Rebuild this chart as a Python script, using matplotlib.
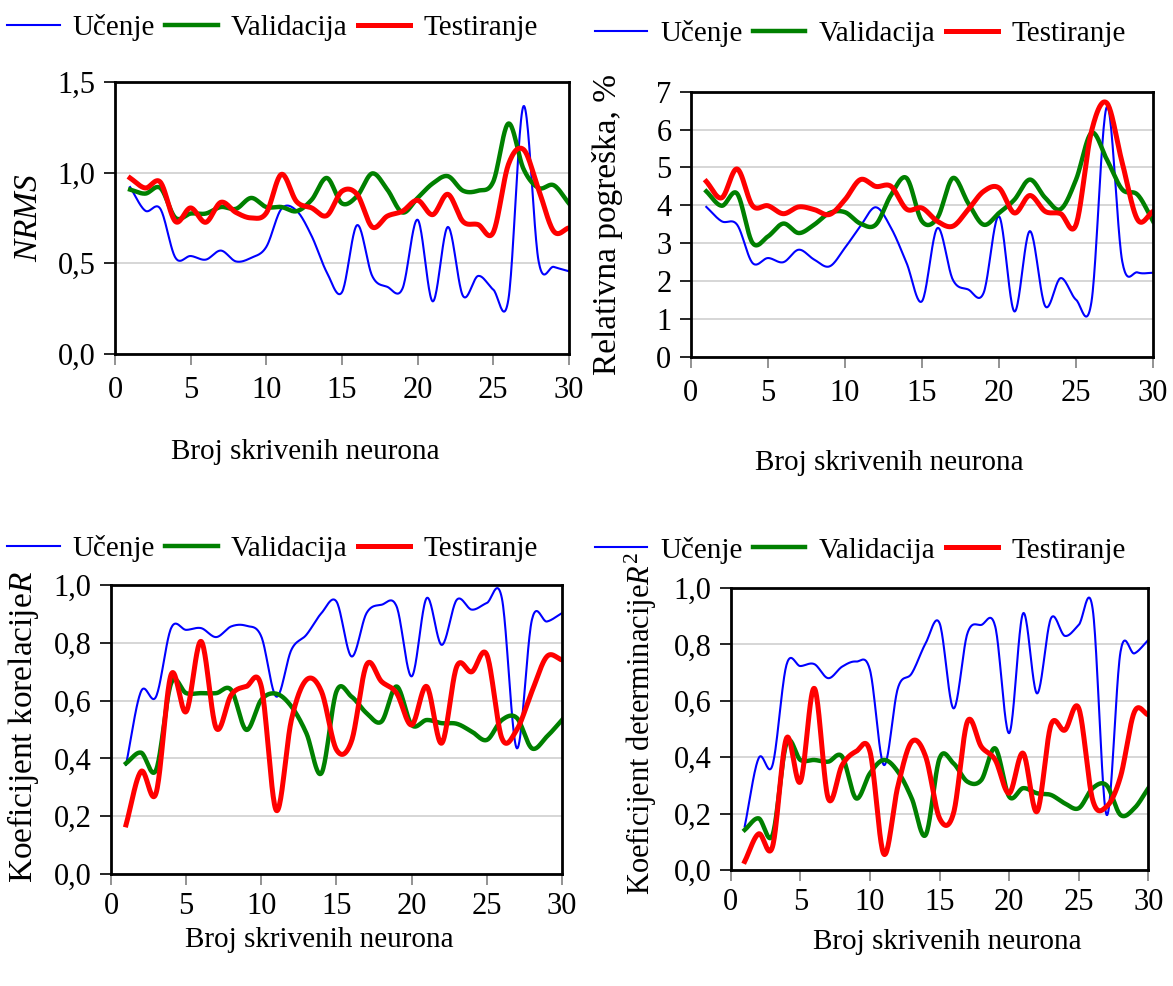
import numpy as np
import matplotlib
matplotlib.use("Agg")
import matplotlib.pyplot as plt
from matplotlib.lines import Line2D

plt.rcParams['font.family'] = ['Liberation Serif', 'DejaVu Serif']
plt.rcParams['mathtext.fontset'] = 'custom'
plt.rcParams['mathtext.rm'] = 'Liberation Serif'
plt.rcParams['mathtext.it'] = 'Liberation Serif:italic'

# broj skrivenih neurona
neurons = np.arange(1, 31)
series_names = ['Učenje', 'Validacija', 'Testiranje']

# NRMS
nrms_ucenje = [0.92, 0.79, 0.80, 0.53, 0.54, 0.52, 0.57, 0.51, 0.53, 0.59,
               0.80, 0.79, 0.65, 0.45, 0.34, 0.71, 0.43, 0.37, 0.36, 0.74,
               0.29, 0.70, 0.32, 0.43, 0.355, 0.30, 1.366, 0.51, 0.48, 0.456]
nrms_valid = [0.906, 0.884, 0.915, 0.75, 0.774, 0.774, 0.81, 0.80, 0.86, 0.81,
              0.81, 0.787, 0.85, 0.97, 0.83, 0.87, 0.995, 0.906, 0.78, 0.86,
              0.94, 0.98, 0.90, 0.90, 0.95, 1.27, 1.02, 0.915, 0.93, 0.83]
nrms_test = [0.97, 0.915, 0.947, 0.73, 0.805, 0.726, 0.836, 0.78, 0.75, 0.777,
             0.99, 0.84, 0.805, 0.763, 0.897, 0.88, 0.70, 0.76, 0.787, 0.847,
             0.768, 0.88, 0.73, 0.713, 0.67, 1.044, 1.127, 0.906, 0.676, 0.695]

# relativna pogreska, %
rel_ucenje = [3.96, 3.58, 3.49, 2.48, 2.61, 2.50, 2.83, 2.57, 2.39, 2.88,
              3.45, 3.95, 3.40, 2.48, 1.47, 3.40, 2.04, 1.78, 1.69, 3.71,
              1.20, 3.32, 1.34, 2.08, 1.51, 1.45, 6.60, 2.52, 2.23, 2.22]
rel_valid = [4.37, 3.99, 4.31, 3.01, 3.18, 3.52, 3.27, 3.49, 3.80, 3.82,
             3.52, 3.49, 4.28, 4.72, 3.58, 3.67, 4.72, 4.06, 3.49, 3.80,
             4.15, 4.68, 4.20, 3.90, 4.68, 5.91, 5.21, 4.42, 4.28, 3.58]
rel_test = [4.63, 4.20, 4.96, 3.99, 3.99, 3.78, 3.96, 3.89, 3.76, 4.15,
            4.68, 4.50, 4.50, 3.90, 3.93, 3.58, 3.45, 3.89, 4.37, 4.46,
            3.80, 4.26, 3.84, 3.78, 3.49, 5.95, 6.70, 5.12, 3.62, 3.84]

# koeficijent korelacije R
r_ucenje = [0.378, 0.632, 0.614, 0.851, 0.845, 0.851, 0.82, 0.857, 0.859, 0.822,
            0.614, 0.776, 0.828, 0.903, 0.943, 0.753, 0.903, 0.932, 0.926, 0.684,
            0.955, 0.793, 0.949, 0.915, 0.938, 0.955, 0.435, 0.88, 0.874, 0.903]
r_valid = [0.383, 0.42, 0.36, 0.66, 0.626, 0.626, 0.626, 0.637, 0.499, 0.603,
           0.624, 0.58, 0.487, 0.349, 0.632, 0.614, 0.557, 0.528, 0.649, 0.516,
           0.533, 0.522, 0.52, 0.493, 0.464, 0.533, 0.54, 0.435, 0.476, 0.533]
r_test = [0.17, 0.355, 0.28, 0.69, 0.562, 0.805, 0.505, 0.62, 0.649, 0.649,
          0.22, 0.533, 0.672, 0.632, 0.43, 0.46, 0.724, 0.666, 0.626, 0.516,
          0.649, 0.453, 0.718, 0.70, 0.759, 0.47, 0.50, 0.632, 0.753, 0.741]

# koeficijent determinacije R^2
r2_ucenje = [0.154, 0.396, 0.372, 0.727, 0.723, 0.73, 0.68, 0.721, 0.739, 0.709,
             0.372, 0.644, 0.697, 0.804, 0.875, 0.573, 0.839, 0.869, 0.863, 0.485,
             0.91, 0.626, 0.892, 0.83, 0.869, 0.925, 0.195, 0.774, 0.768, 0.816]
r2_valid = [0.142, 0.183, 0.124, 0.449, 0.39, 0.39, 0.384, 0.402, 0.254, 0.343,
            0.39, 0.349, 0.254, 0.124, 0.396, 0.378, 0.313, 0.319, 0.431, 0.26,
            0.29, 0.272, 0.266, 0.236, 0.219, 0.29, 0.30, 0.195, 0.219, 0.29]
r2_test = [0.03, 0.128, 0.083, 0.467, 0.313, 0.644, 0.254, 0.372, 0.42, 0.42,
           0.056, 0.296, 0.455, 0.402, 0.183, 0.201, 0.526, 0.437, 0.39, 0.272,
           0.414, 0.207, 0.514, 0.496, 0.573, 0.248, 0.225, 0.331, 0.561, 0.55]

xticks = [0, 5, 10, 15, 20, 25, 30]
nrms_ticks = [0.0, 0.5, 1.0, 1.5]
nrms_ticklabels = ['0,0', '0,5', '1,0', '1,5']
rel_ticks = [0, 1, 2, 3, 4, 5, 6, 7]
r_ticks = [0.0, 0.2, 0.4, 0.6, 0.8, 1.0]
r_ticklabels = ['0,0', '0,2', '0,4', '0,6', '0,8', '1,0']

colors = ['#0000ff', '#008000', '#ff0000']
widths = [1.5, 3.2, 3.6]
FS = 21


def smooth(x, y, steps=24):
    # Excel-like smoothed line (Catmull-Rom)
    x = np.asarray(x, float)
    y = np.asarray(y, float)
    px = np.concatenate([[2 * x[0] - x[1]], x, [2 * x[-1] - x[-2]]])
    py = np.concatenate([[2 * y[0] - y[1]], y, [2 * y[-1] - y[-2]]])
    xs, ys = [], []
    t = np.linspace(0, 1, steps, endpoint=False)
    for i in range(1, len(px) - 2):
        for arr, out in ((px, xs), (py, ys)):
            p0, p1, p2, p3 = arr[i - 1], arr[i], arr[i + 1], arr[i + 2]
            out.extend(0.5 * (2 * p1 + (-p0 + p2) * t
                              + (2 * p0 - 5 * p1 + 4 * p2 - p3) * t ** 2
                              + (-p0 + 3 * p1 - 3 * p2 + p3) * t ** 3))
    xs.append(x[-1])
    ys.append(y[-1])
    return np.array(xs), np.array(ys)


def panel(rect, data, yticks, yticklabels, ylim, ylabel, legend_pos,
          xlab_xy, ylab_xy, ylab_fs, xpad):
    ax = fig.add_axes(rect)
    for vals, c, lw in zip(data, colors, widths):
        sx, sy = smooth(neurons, vals)
        ax.plot(sx, sy, color=c, lw=lw, solid_joinstyle='round')
    ax.set_xlim(0, 30)
    ax.set_ylim(*ylim)
    ax.set_xticks(xticks)
    ax.set_yticks(yticks)
    ax.set_yticklabels(yticklabels)
    ax.tick_params(labelsize=22, length=8, width=1.2)
    ax.tick_params(axis='x', color='#808080', pad=xpad)
    ax.tick_params(axis='y', pad=6)
    ax.yaxis.grid(True, color='#d0d0d0', lw=1.2)
    ax.set_axisbelow(True)
    for s in ax.spines.values():
        s.set_linewidth(2)
    ax.set_xlabel('Broj skrivenih neurona', fontsize=FS, va='center')
    ax.xaxis.set_label_coords(*xlab_xy)
    ax.set_ylabel(ylabel, fontsize=ylab_fs, va='center')
    ax.yaxis.set_label_coords(*ylab_xy)
    handles = [Line2D([], [], color=c, lw=lw) for c, lw in zip(colors, widths)]
    fig.legend(handles, series_names, loc='center left', bbox_to_anchor=legend_pos,
               ncol=3, frameon=False, fontsize=FS, handlelength=1.8,
               handletextpad=0.45, columnspacing=0.35, borderpad=0, borderaxespad=0)
    return ax


fig = plt.figure(figsize=(11.73, 9.86), dpi=100)

panel([0.098, 0.641, 0.387, 0.276], [nrms_ucenje, nrms_valid, nrms_test],
      nrms_ticks, nrms_ticklabels, (0, 1.5), '$\\it{NRMS}$', (0.006, 0.972),
      (0.42, -0.36), (-0.19, 0.5), 24, 8)
panel([0.589, 0.638, 0.394, 0.269], [rel_ucenje, rel_valid, rel_test],
      rel_ticks, [str(t) for t in rel_ticks], (0, 7), 'Relativna pogreška, %',
      (0.507, 0.966), (0.429, -0.40), (-0.18, 0.5), 24, 8)
panel([0.0946, 0.1136, 0.3845, 0.293], [r_ucenje, r_valid, r_test],
      r_ticks, r_ticklabels, (0, 1), 'Koeficijent korelacije$\\it{R}$',
      (0.006, 0.444), (0.463, -0.228), (-0.195, 0.51), 24, 5)
panel([0.623, 0.1177, 0.356, 0.286], [r2_ucenje, r2_valid, r2_test],
      r_ticks, r_ticklabels, (0, 1), 'Koeficijent determinacije$\\it{R}^2$',
      (0.507, 0.442), (0.519, -0.255), (-0.215, 0.52), 22, 5)

fig.savefig('out.png', dpi=100)
